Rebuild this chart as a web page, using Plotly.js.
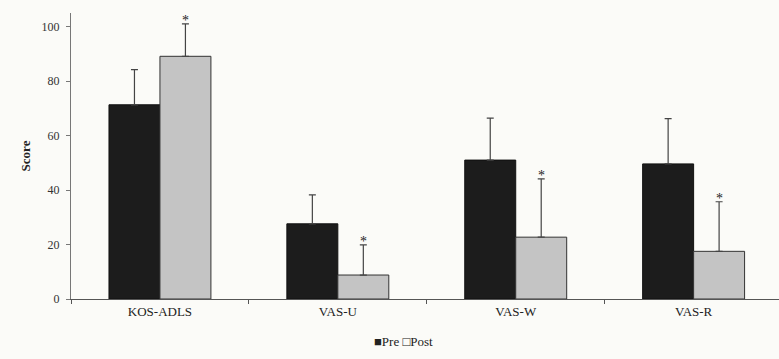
<!DOCTYPE html>
<html><head><meta charset="utf-8">
<script src="https://cdn.plot.ly/plotly-3.0.1.min.js"></script>
<style>html,body{margin:0;padding:0;background:#fbfbf8;}</style>
</head><body>
<div id="chart" style="width:779px;height:359px;"></div>
<script>
var categories = ["KOS-ADLS", "VAS-U", "VAS-W", "VAS-R"];
var preValues = [71.3, 27.6, 51.0, 49.6];
var preErrors = [12.9, 10.6, 15.4, 16.6];
var postValues = [89.1, 8.8, 22.7, 17.5];
var postErrors = [11.9, 11.1, 21.4, 18.2];
var significant = [true, true, true, true];
var seriesNames = ["Pre", "Post"];

var pre = {
  type: "bar", name: seriesNames[0], x: categories, y: preValues,
  marker: {color: "#1c1c1c", line: {color: "#111", width: 1}},
  error_y: {type: "data", array: preErrors, arrayminus: preErrors.map(function(){return 0;}), symmetric: false, color: "#444", thickness: 1.2, width: 3.5}
};
var post = {
  type: "bar", name: seriesNames[1], x: categories, y: postValues,
  marker: {color: "#c4c4c4", line: {color: "#333", width: 1}},
  error_y: {type: "data", array: postErrors, arrayminus: postErrors.map(function(){return 0;}), symmetric: false, color: "#444", thickness: 1.2, width: 3.5}
};

var bargap = 0.427;
var halfBar = (1 - bargap) / 4; // centre offset of the Post bar within a group
var annotations = [];
categories.forEach(function(c, i){
  if (significant[i]) {
    annotations.push({
      x: i + halfBar, y: postValues[i] + postErrors[i], xref: "x", yref: "y",
      text: "*", showarrow: false, yanchor: "middle", yshift: 3,
      font: {family: "Liberation Serif", size: 14, color: "#222"}
    });
  }
});
annotations.push({
  xref: "paper", yref: "paper", x: 0.469, y: -0.147, xanchor: "center", yanchor: "middle",
  text: "■" + seriesNames[0] + " □" + seriesNames[1], showarrow: false,
  font: {family: "Liberation Serif", size: 13, color: "#222"}
});

var layout = {
  width: 779, height: 359,
  margin: {l: 71, r: 0, t: 13, b: 60},
  paper_bgcolor: "#fbfbf8", plot_bgcolor: "rgba(0,0,0,0)",
  barmode: "group", bargap: bargap, bargroupgap: 0,
  font: {family: "Liberation Serif", size: 12, color: "#222"},
  showlegend: false,
  xaxis: {
    type: "category", range: [-0.5, 3.48],
    showline: true, linecolor: "#555", linewidth: 1,
    ticks: "outside", tickson: "boundaries", ticklen: 4, tickcolor: "#555",
    tickfont: {family: "Liberation Serif", size: 13, color: "#222"},
    showgrid: false, zeroline: false
  },
  yaxis: {
    range: [0, 105], tickvals: [0, 20, 40, 60, 80, 100],
    showline: true, linecolor: "#777", linewidth: 1,
    ticks: "outside", ticklen: 4, tickcolor: "#777", ticklabelstandoff: 4,
    tickfont: {family: "Liberation Serif", size: 12, color: "#333"},
    showgrid: false, zeroline: false,
    title: {text: "<b>Score</b>", font: {family: "Liberation Serif", size: 13, color: "#222"}, standoff: 8}
  },
  annotations: annotations
};

Plotly.newPlot("chart", [pre, post], layout, {displayModeBar: false, staticPlot: true});
</script>
</body></html>
